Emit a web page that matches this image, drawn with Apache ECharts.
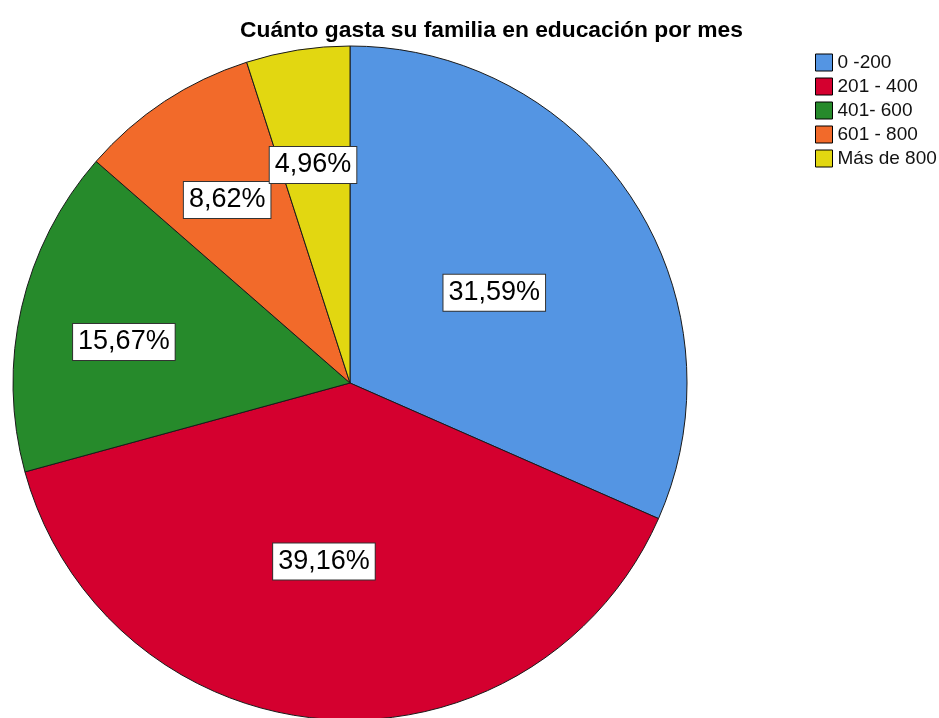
<!DOCTYPE html>
<html>
<head>
<meta charset="utf-8">
<style>
  html, body { margin: 0; padding: 0; background: #ffffff; }
  #chart { width: 939px; height: 718px; }
</style>
<script src="https://cdn.jsdelivr.net/npm/echarts@6/dist/echarts.min.js"></script>
</head>
<body>
<div id="chart"></div>
<script>
// Monthly family spending on education, share of respondents (%)
const categories = ['0 -200', '201 - 400', '401- 600', '601 - 800', 'Más de 800'];
const percentages = [31.59, 39.16, 15.67, 8.62, 4.96];

// Slice colours, in category order
const sliceColors = ['#5495e3', '#d4002f', '#268a2b', '#f26a2a', '#e2d711'];
// Label placement: radius as a fraction of the pie radius, and a small angle nudge (degrees)
const labelRadiusFraction = [0.505, 0.535, 0.682, 0.654, 0.656];
const labelAngleNudge = [1.1, 4.1, -2.6, -0.5, -0.7];

const PIE_CENTER = [350, 383];
const PIE_RADIUS = 337;
const FONT = '"Liberation Sans", Arial, Helvetica, sans-serif';

function fmtPct(v) {
  return v.toFixed(2).replace('.', ',') + '%';
}

const total = percentages.reduce((a, b) => a + b, 0);
const midAngles = [];
let acc = 0;
percentages.forEach(v => {
  midAngles.push(360 * (acc + v / 2) / total);
  acc += v;
});

const chart = echarts.init(document.getElementById('chart'), null, { renderer: 'canvas' });

chart.setOption({
  animation: false,
  backgroundColor: '#ffffff',
  title: {
    text: 'Cuánto gasta su familia en educación por mes',
    left: 240,
    top: 19,
    padding: 0,
    textStyle: {
      fontFamily: FONT,
      fontSize: 22.8,
      fontWeight: 'bold',
      color: '#000000'
    }
  },
  legend: {
    orient: 'vertical',
    left: 815,
    top: 53,
    padding: 0,
    itemWidth: 17,
    itemHeight: 17,
    itemGap: 5,
    icon: 'rect',
    selectedMode: false,
    data: categories,
    itemStyle: { borderColor: '#000000', borderWidth: 1 },
    textStyle: {
      fontFamily: FONT,
      fontSize: 19,
      color: '#111111',
      padding: [0, 0, 0, 0]
    }
  },
  series: [{
    type: 'pie',
    center: PIE_CENTER,
    radius: PIE_RADIUS,
    startAngle: 90,
    clockwise: true,
    avoidLabelOverlap: false,
    emphasis: { disabled: true },
    itemStyle: { borderColor: '#1a1a1a', borderWidth: 1 },
    label: {
      show: true,
      position: 'inside',
      formatter: p => fmtPct(p.value),
      fontFamily: FONT,
      fontSize: 27,
      lineHeight: 29,
      color: '#000000',
      backgroundColor: '#ffffff',
      borderColor: '#333333',
      borderWidth: 1,
      padding: [4, 5, 3, 5]
    },
    labelLine: { show: false },
    labelLayout: function (params) {
      const i = params.dataIndex;
      const ang = (midAngles[i] + labelAngleNudge[i]) * Math.PI / 180;
      const r = PIE_RADIUS * labelRadiusFraction[i];
      return {
        x: PIE_CENTER[0] + r * Math.sin(ang),
        y: PIE_CENTER[1] - r * Math.cos(ang),
        align: 'center',
        verticalAlign: 'middle'
      };
    },
    data: categories.map((name, i) => ({
      name: name,
      value: percentages[i],
      itemStyle: { color: sliceColors[i] }
    }))
  }]
});
</script>
</body>
</html>
